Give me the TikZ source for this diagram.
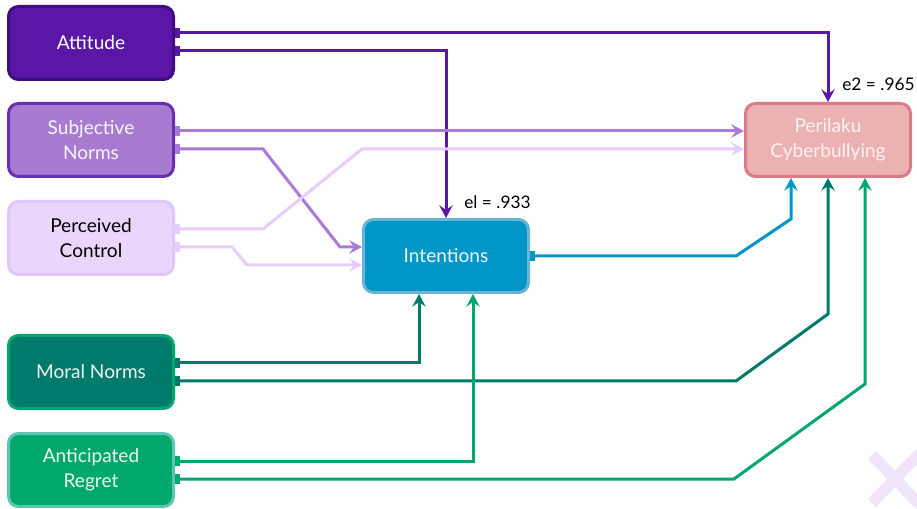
\documentclass[tikz,border=0pt]{standalone}
\usepackage{fontspec}
\setmainfont{Lato}
\usetikzlibrary{arrows.meta}
\definecolor{attF}{HTML}{5A16A6}
\definecolor{attD}{HTML}{3E0E80}
\definecolor{subF}{HTML}{A87BD0}
\definecolor{subD}{HTML}{6A2FB0}
\definecolor{subL}{HTML}{A97BD6}
\definecolor{perF}{HTML}{EAD5FD}
\definecolor{perD}{HTML}{E0C6FB}
\definecolor{perL}{HTML}{E8CDFC}
\definecolor{intF}{HTML}{0097C8}
\definecolor{intD}{HTML}{6CB4D4}
\definecolor{pkF}{HTML}{ECB1B1}
\definecolor{pkD}{HTML}{D97A84}
\definecolor{morF}{HTML}{007A6B}
\definecolor{morD}{HTML}{00A86B}
\definecolor{regF}{HTML}{00A86B}
\definecolor{regD}{HTML}{5FC4B0}
\definecolor{xcol}{HTML}{F0E4FB}
\begin{document}
\begin{tikzpicture}[x=0.75pt,y=-0.75pt,
  box/.style={rounded corners=7.5pt, line width=2.25pt, minimum width=123.75pt,
    minimum height=54.75pt, align=center, font=\fontsize{14.3}{18.75}\selectfont, inner sep=2pt},
  conn/.style={line width=2.25pt, line join=miter,
    {Rectangle[length=3.5pt,width=7pt]}-{Stealth[length=9.5pt,width=10pt,inset=3.5pt]}},
  lbl/.style={font=\fontsize{13}{15}\selectfont, inner sep=0pt}]
\useasboundingbox (0,0) rectangle (917,509);
\fill[white] (0,0) rectangle (917,509);
% watermark X
\begin{scope}
\clip (0,0) rectangle (917,509);
\draw[xcol, line width=8.5pt] (872,455) -- (920,505);
\draw[xcol, line width=8.5pt] (872,503) -- (920,453);
\end{scope}
% nodes
\node[box, fill=attF, draw=attD, text=white] (att) at (91,43) {Attitude};
\node[box, fill=subF, draw=subD, text=white!92!subF] (sub) at (91,140) {Subjective\\Norms};
\node[box, fill=perF, draw=perD, text=black] (per) at (91,238) {Perceived\\Control};
\node[box, fill=intF, draw=intD, text=white!92!intF] (int) at (446,256) {Intentions};
\node[box, fill=pkF, draw=pkD, text=white!85!pkF] (pk) at (828,140) {Perilaku\\Cyberbullying};
\node[box, fill=morF, draw=morD, text=white!92!morF] (mor) at (91,372) {Moral Norms};
\node[box, fill=regF, draw=regD, text=white!92!regF] (reg) at (91,470) {Anticipated\\Regret};
% labels
\node[lbl, anchor=west] (e1) at (464,202) {el = .933};
\node[lbl, anchor=west] (e2) at (842,84) {e2 = .965};
% connectors
\draw[conn, attF] (att.east |- 0,33) -| (pk.north);
\draw[conn, attF] (att.east |- 0,51) -| (int.north);
\draw[conn, subL] (sub.east |- 0,131) -- (pk.west |- 0,131);
\draw[conn, subL] (sub.east |- 0,149) -- (263,149) -- (340,247) -- (int.west |- 0,247);
\draw[conn, perL] (per.east |- 0,229) -- (263,229) -- (362,149) -- (pk.west |- 0,149);
\draw[conn, perL] (per.east |- 0,247) -- (232,247) -- (247,265) -- (int.west |- 0,265);
\draw[conn, intF] (int.east) -- (736,256) -- (791,219) -- (pk.south -| 791,0);
\draw[conn, morF] (mor.east |- 0,363) -| (int.south -| 419,0);
\draw[conn, morF] (mor.east |- 0,381) -- (736,381) -- (828,314) -- (pk.south);
\draw[conn, regF] (reg.east |- 0,461) -| (int.south -| 473,0);
\draw[conn, regF] (reg.east |- 0,479) -- (734,479) -- (865,384) -- (pk.south -| 865,0);
\end{tikzpicture}
\end{document}
